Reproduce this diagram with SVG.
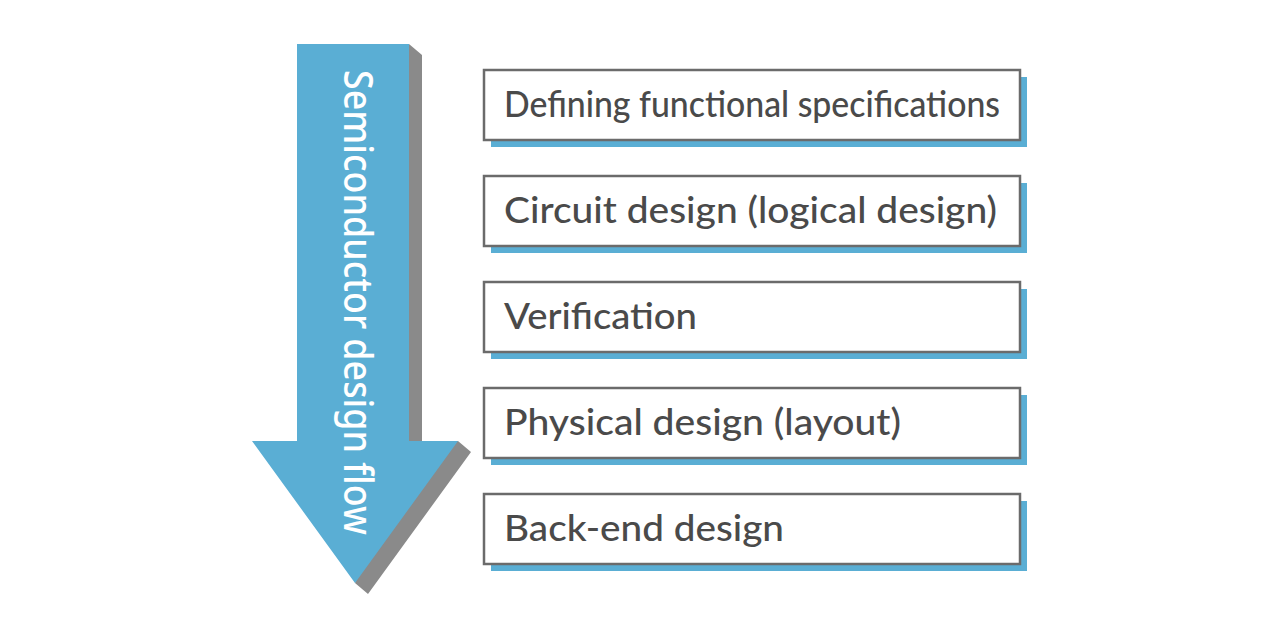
<svg xmlns="http://www.w3.org/2000/svg" width="1280" height="640" viewBox="0 0 1280 640">
<style>
.box{fill:#fff;stroke:#6b6b6b;stroke-width:2.5}
.sh{fill:#5aaed4}
.lbl{font-family:"Lato","Liberation Sans",sans-serif;font-size:36px;font-weight:500;fill:#4a4a4a}
.arrowtxt{font-family:"Noto Sans","Open Sans","Liberation Sans",sans-serif;font-size:39px;font-weight:500;fill:#fff}
</style>
<rect width="1280" height="640" fill="#fff"/>
<g id="flow-arrow">
<polygon points="409,44 422,55 422,441 458,441 471,452 368,594 355,583 409,441" fill="#8a8a8a"/>
<polygon points="297,44 409,44 409,441 458,441 355,583 252,441 297,441" fill="#5aaed4"/>
<text class="arrowtxt" transform="translate(344,70) rotate(90)" textLength="465" lengthAdjust="spacingAndGlyphs">Semiconductor design flow</text>
</g>
<g id="connectors"></g>
<g id="step1">
<rect class="sh" x="491" y="77" width="536" height="70"/>
<rect class="box" x="484" y="70" width="536" height="70"/>
<text class="lbl" x="504" y="117" textLength="496" lengthAdjust="spacingAndGlyphs">Defining functional specifications</text>
</g>
<g id="step2">
<rect class="sh" x="491" y="183" width="536" height="70"/>
<rect class="box" x="484" y="176" width="536" height="70"/>
<text class="lbl" x="504" y="223" textLength="493" lengthAdjust="spacingAndGlyphs">Circuit design (logical design)</text>
</g>
<g id="step3">
<rect class="sh" x="491" y="289" width="536" height="70"/>
<rect class="box" x="484" y="282" width="536" height="70"/>
<text class="lbl" x="504" y="329" textLength="193" lengthAdjust="spacingAndGlyphs">Verification</text>
</g>
<g id="step4">
<rect class="sh" x="491" y="395" width="536" height="70"/>
<rect class="box" x="484" y="388" width="536" height="70"/>
<text class="lbl" x="504" y="435" textLength="397" lengthAdjust="spacingAndGlyphs">Physical design (layout)</text>
</g>
<g id="step5">
<rect class="sh" x="491" y="501" width="536" height="70"/>
<rect class="box" x="484" y="494" width="536" height="70"/>
<text class="lbl" x="504" y="541" textLength="280" lengthAdjust="spacingAndGlyphs">Back-end design</text>
</g>
</svg>
